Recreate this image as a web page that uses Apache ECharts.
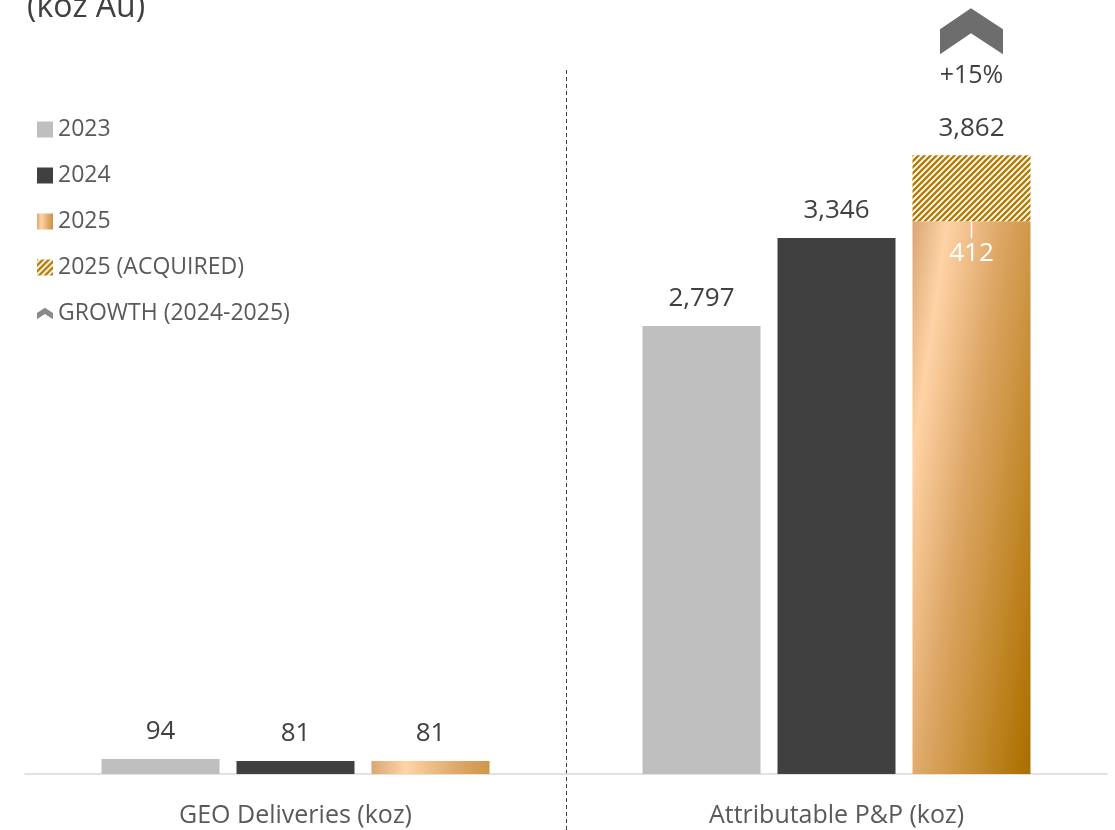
<!DOCTYPE html>
<html>
<head>
<meta charset="utf-8">
<script src="https://cdn.jsdelivr.net/npm/echarts@6/dist/echarts.min.js"></script>
<style>html,body{margin:0;padding:0;background:#fff;}#c{width:1115px;height:830px;}</style>
</head>
<body>
<div id="c"></div>
<script>
// ---- data ----
const categories = ['GEO Deliveries (koz)', 'Attributable P&P (koz)'];
const v2023 = [94, 2797];
const v2024 = [81, 3346];
const v2025Total = [81, 3862];
const v2025Acquired = [0, 412];
const legendNames = ['2023', '2024', '2025', '2025 (ACQUIRED)', 'GROWTH (2024-2025)'];
const unitTitle = '(koz Au)';

// ---- helpers ----
const FONT = '"Open Sans", "Noto Sans", sans-serif';
const fmt = v => v.toLocaleString('en-US');
const v2025Organic = v2025Total.map((t, i) => t - v2025Acquired[i]);
const growthPct = Math.round((v2025Total[1] / v2024[1] - 1) * 100);
const CHEVRON = 'path://M31 0L63 21L63 46L31 25L0 46L0 21Z';

function makeHatch() {
  const c = document.createElement('canvas');
  c.width = 6; c.height = 6;
  const g = c.getContext('2d');
  g.fillStyle = '#ffffff';
  g.fillRect(0, 0, 6, 6);
  g.strokeStyle = '#b47c00';
  g.lineWidth = 2.4;
  g.beginPath();
  [0, 6, 12].forEach(k => { g.moveTo(k - 7, 7); g.lineTo(k + 1, -1); });
  g.stroke();
  return c;
}
const hatch = { image: makeHatch(), repeat: 'repeat' };

const gold = {
  type: 'linear', x: 0, y: 0, x2: 1.6, y2: 0.05,
  colorStops: [
    { offset: 0, color: '#d8a673' },
    { offset: 0.18, color: '#ffd3a6' },
    { offset: 0.46, color: '#dda767' },
    { offset: 0.75, color: '#c48a2e' },
    { offset: 1, color: '#ab7100' }
  ]
};

const labelBase = { show: true, position: 'top', distance: 14, color: '#404040', fontSize: 26, fontFamily: FONT };

const organicData = v2025Organic.map((v, i) => {
  if (v2025Acquired[i] > 0) {
    return {
      value: v,
      label: {
        show: true, position: 'insideTop', distance: 0,
        formatter: '{l|}\n{v|' + fmt(v2025Acquired[i]) + '}',
        rich: {
          l: { width: 1.5, height: 17, backgroundColor: '#ffffff' },
          v: { color: '#ffffff', fontSize: 26, fontFamily: FONT, lineHeight: 30 }
        }
      }
    };
  }
  return { value: v, label: Object.assign({}, labelBase, { formatter: fmt(v2025Total[i]) }) };
});

const acquiredData = v2025Acquired.map((v, i) => v > 0 ? {
  value: v,
  label: Object.assign({}, labelBase, { formatter: fmt(v2025Total[i]) })
} : null);

const chart = echarts.init(document.getElementById('c'), null, { renderer: 'canvas' });
chart.setOption({
  animation: false,
  backgroundColor: '#ffffff',
  textStyle: { fontFamily: FONT },
  title: {
    text: unitTitle, left: 22, top: -13,
    textStyle: { fontSize: 32, fontWeight: 'normal', color: '#404040', fontFamily: FONT }
  },
  legend: {
    orient: 'vertical', left: 37, top: 118, padding: 0,
    itemWidth: 16, itemHeight: 16, itemGap: 23,
    textStyle: { fontSize: 23, color: '#595959', fontFamily: FONT, lineHeight: 23 },
    data: [
      { name: legendNames[0], icon: 'rect' },
      { name: legendNames[1], icon: 'rect' },
      { name: legendNames[2], icon: 'rect' },
      { name: legendNames[3], icon: 'rect' },
      { name: legendNames[4], icon: CHEVRON }
    ],
    selectedMode: false
  },
  grid: { left: 25, right: 8, top: 70, bottom: 0, containLabel: false, outerBoundsMode: 'none' },
  xAxis: {
    type: 'category', data: categories,
    axisLine: { onZero: true, lineStyle: { color: '#d9d9d9', width: 1.5 } },
    axisTick: { show: false },
    axisLabel: { fontSize: 25, color: '#595959', margin: -27, fontFamily: FONT, verticalAlign: 'top' },
    splitLine: {
      show: true, showMinLine: false, showMaxLine: false,
      lineStyle: { color: '#404040', type: [4, 3], width: 1 }
    }
  },
  yAxis: { type: 'value', min: -350, max: 4395, show: false, splitLine: { show: false } },
  series: [
    {
      name: legendNames[0], type: 'bar', data: v2023, barWidth: 118, barGap: '14.4%',
      itemStyle: { color: '#bfbfbf' },
      label: Object.assign({}, labelBase, { formatter: p => fmt(p.value) })
    },
    {
      name: legendNames[1], type: 'bar', data: v2024, barWidth: 118, barGap: '14.4%',
      itemStyle: { color: '#404040' },
      label: Object.assign({}, labelBase, { formatter: p => fmt(p.value) })
    },
    {
      name: legendNames[2], type: 'bar', stack: 's2025', data: organicData, barWidth: 118, barGap: '14.4%',
      itemStyle: { color: gold }
    },
    {
      name: legendNames[3], type: 'bar', stack: 's2025', data: acquiredData, barWidth: 118, barGap: '14.4%',
      itemStyle: { color: hatch },
      markPoint: {
        symbol: CHEVRON, symbolSize: [63, 46], symbolOffset: [0, -124],
        itemStyle: { color: '#6d6d6d' },
        label: {
          show: true, position: 'bottom', distance: 9, color: '#404040', fontSize: 25, fontFamily: FONT,
          formatter: '+' + growthPct + '%'
        },
        data: [{ coord: [categories[1], v2025Total[1]] }]
      }
    },
    {
      name: legendNames[4], type: 'scatter', data: [], symbol: CHEVRON,
      itemStyle: { color: '#6d6d6d' }
    }
  ]
});
</script>
</body>
</html>
